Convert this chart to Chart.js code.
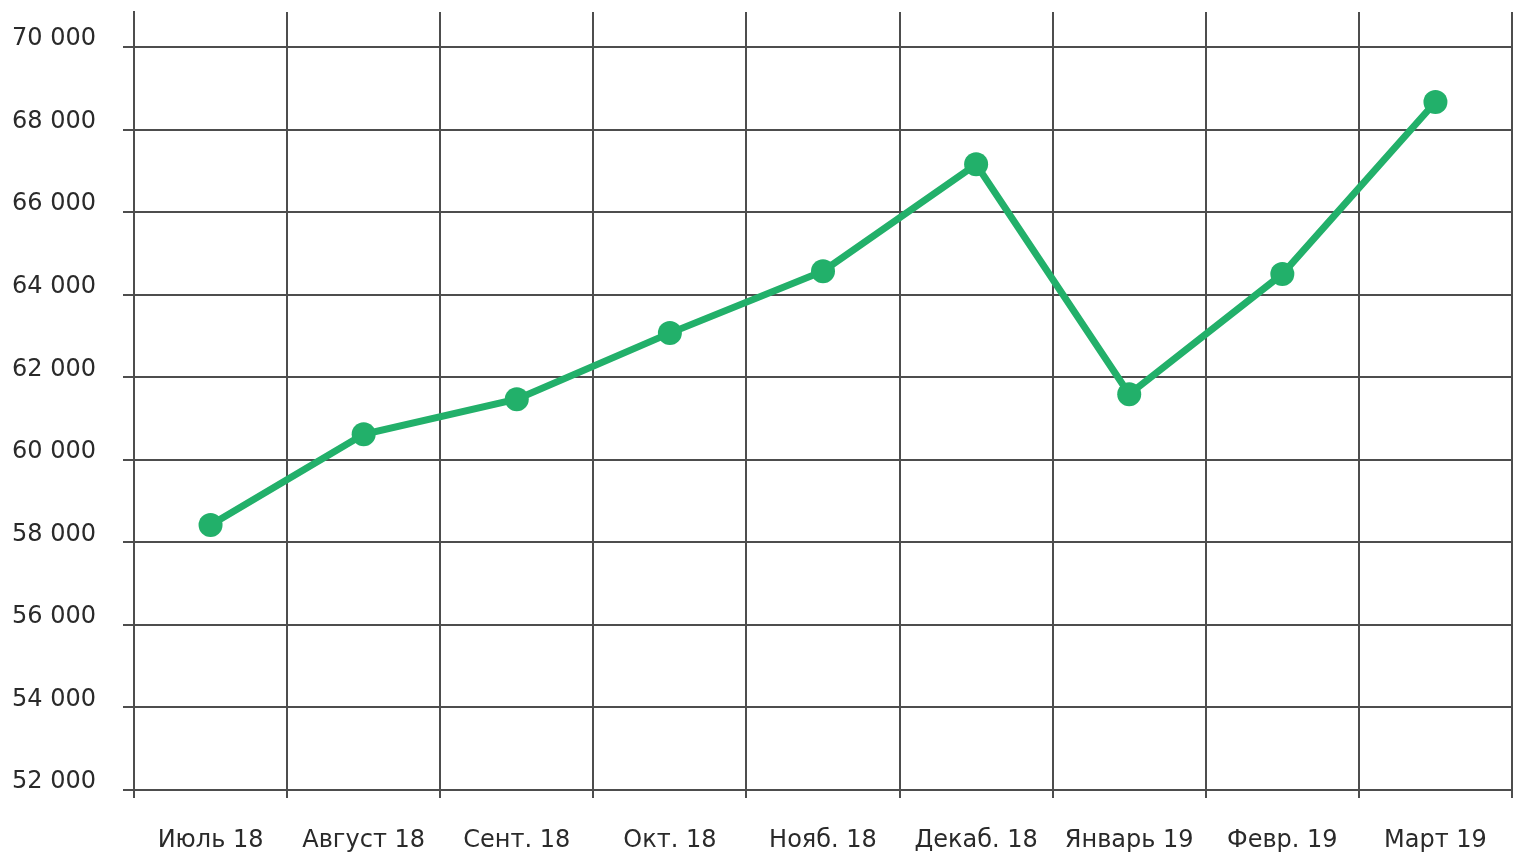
<!DOCTYPE html>
<html>
<head>
<meta charset="utf-8">
<script src="https://cdn.jsdelivr.net/npm/chart.js@4/dist/chart.umd.min.js"></script>
<style>
html,body{margin:0;padding:0;background:#fff;}
#wrap{width:1517px;height:853px;position:relative;}
</style>
</head>
<body>
<div id="wrap"><canvas id="c" width="1517" height="853"></canvas></div>
<script>
const categories = ["Июль 18","Август 18","Сент. 18","Окт. 18","Нояб. 18","Декаб. 18","Январь 19","Февр. 19","Март 19"];
const salary = [58420, 60620, 61470, 63070, 64570, 67160, 61590, 64500, 68670];
const yTicks = [52000,54000,56000,58000,60000,62000,64000,66000,68000,70000];

const gridColor = '#4d4d4d';
const textColor = '#2a2a2a';
const fontFamily = '"DejaVu Sans", sans-serif';

new Chart(document.getElementById('c'), {
  type: 'line',
  data: {
    labels: categories,
    datasets: [{
      data: salary,
      borderColor: '#22b06a',
      backgroundColor: '#22b06a',
      borderWidth: 7,
      pointRadius: 12,
      pointHoverRadius: 12,
      pointBackgroundColor: '#22b06a',
      pointBorderWidth: 0,
      tension: 0
    }]
  },
  options: {
    responsive: false,
    animation: false,
    events: [],
    layout: { autoPadding: false, padding: { top: 12, right: 5, left: 12, bottom: 0 } },
    plugins: { legend: { display: false }, tooltip: { enabled: false } },
    scales: {
      x: {
        offset: true,
        grid: { offset: true, color: gridColor, lineWidth: 2, tickLength: 8, drawTicks: true },
        border: { display: true, color: gridColor, width: 2 },
        ticks: { color: textColor, font: { family: fontFamily, size: 24 }, padding: 28, maxRotation: 0, autoSkip: false },
        afterFit(s) { s.height = 63; s.paddingLeft = 0; s.paddingRight = 0; }
      },
      y: {
        min: 52000,
        max: 70850,
        afterBuildTicks(s) { s.ticks = yTicks.map(v => ({ value: v })); },
        grid: { color: gridColor, lineWidth: 2, tickLength: 11 },
        border: { display: true, color: gridColor, width: 2 },
        ticks: {
          color: textColor,
          font: { family: fontFamily, size: 24 },
          crossAlign: 'far',
          labelOffset: -8,
          padding: 6,
          callback(v) { return String(v).replace(/\B(?=(\d{3})+(?!\d))/g, ' '); }
        },
        afterFit(s) { s.width = 122; s.paddingTop = 0; s.paddingBottom = 0; }
      }
    }
  }
});
</script>
</body>
</html>
